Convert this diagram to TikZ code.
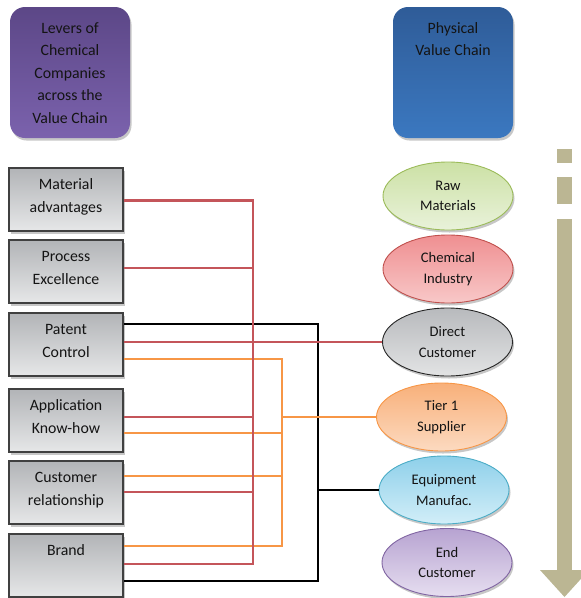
\documentclass[tikz,border=0pt]{standalone}
\usepackage{fontspec}
\setmainfont{Carlito}
\usetikzlibrary{shadows,calc,shapes.geometric}
\definecolor{txt}{HTML}{141414}
\definecolor{gbtop}{HTML}{B2B4B7}
\definecolor{gbbot}{HTML}{E6E7E8}
\definecolor{purtop}{HTML}{5C4787}
\definecolor{purbot}{HTML}{7B62AD}
\definecolor{blutop}{HTML}{2F5C98}
\definecolor{blubot}{HTML}{3B78C0}
\definecolor{lred}{HTML}{C4555A}
\definecolor{lorange}{HTML}{F79646}
\definecolor{tan}{HTML}{BBB693}
\definecolor{rawtop}{HTML}{CCE1A5}\definecolor{rawbot}{HTML}{E9F2DA}\definecolor{rawbd}{HTML}{9BBB59}
\definecolor{chetop}{HTML}{EF8F91}\definecolor{chebot}{HTML}{F8C8C8}\definecolor{chebd}{HTML}{C0504D}
\definecolor{dctop}{HTML}{B8BABD}\definecolor{dcbot}{HTML}{E2E3E4}
\definecolor{t1top}{HTML}{F8B07A}\definecolor{t1bot}{HTML}{FCDAC0}
\definecolor{eqtop}{HTML}{8ED0EA}\definecolor{eqbot}{HTML}{D2EEF8}\definecolor{eqbd}{HTML}{4BACC6}
\definecolor{endtop}{HTML}{B7A3D1}\definecolor{endbot}{HTML}{E6DEF0}\definecolor{endbd}{HTML}{8064A2}
\begin{document}
\begin{tikzpicture}[x=1pt,y=-1pt,
  shad/.style={drop shadow={shadow xshift=1.5pt,shadow yshift=-2.5pt,opacity=0.22,fill=black}},
  lever/.style={draw=black!75,line width=1.1pt,minimum width=114pt,minimum height=63pt,
    top color=gbtop,bottom color=gbbot,inner sep=0pt,shad},
  ltext/.style={anchor=north,align=center,inner sep=0pt,text=txt,
    font=\fontsize{15.8}{22.5}\selectfont},
  head/.style={rounded corners=15pt,minimum width=120pt,minimum height=131pt,inner sep=0pt,shad},
  oval/.style={ellipse,line width=0.9pt,minimum width=130pt,minimum height=68pt,inner sep=1pt,
    align=center,text=txt,font=\fontsize{14.6}{20.5}\selectfont,shad},
  redl/.style={draw=lred,line width=2.1pt},
  orl/.style={draw=lorange,line width=2.1pt},
  blk/.style={draw=black,line width=2.6pt}]
\useasboundingbox (0,0) rectangle (581,598);
\clip (0,0) rectangle (581,598);

% header boxes
\node[head,top color=purtop,bottom color=purbot] (levH) at (70,72.5) {};
\node[ltext] (levT) at ($(levH.north)+(0,10.5)$) {\strut Levers of\\Chemical\\Companies\\across the\\Value Chain};
\node[head,top color=blutop,bottom color=blubot] (phyH) at (453,72.5) {};
\node[ltext] (phyT) at ($(phyH.north)+(0,10.5)$) {\strut Physical\\Value Chain};

% lever boxes
\node[lever] (mat) at (66,199.5) {};
\node[ltext] (matT) at ($(mat.north)+(0,6.5)$) {\strut Material\\advantages};
\node[lever] (pe) at (66,271.5) {};
\node[ltext] (peT) at ($(pe.north)+(0,6.5)$) {\strut Process\\Excellence};
\node[lever] (pc) at (66,344.5) {};
\node[ltext] (pcT) at ($(pc.north)+(0,6.5)$) {\strut Patent\\Control};
\node[lever] (ak) at (66,420.5) {};
\node[ltext] (akT) at ($(ak.north)+(0,6.5)$) {\strut Application\\Know-how};
\node[lever] (cr) at (66,492.5) {};
\node[ltext] (crT) at ($(cr.north)+(0,6.5)$) {\strut Customer\\relationship};
\node[lever] (br) at (66,565.5) {};
\node[ltext] (brT) at ($(br.north)+(0,6.5)$) {\strut Brand};

% value chain ellipses
\node[oval,draw=rawbd,top color=rawtop,bottom color=rawbot] (raw) at (448,196) {Raw\\Materials};
\node[oval,draw=chebd,top color=chetop,bottom color=chebot] (che) at (448,269) {Chemical\\Industry};
\node[oval,draw=black!85,top color=dctop,bottom color=dcbot] (dc) at (447.5,342) {Direct\\Customer};
\node[oval,draw=lorange,top color=t1top,bottom color=t1bot] (t1) at (441.5,417) {Tier 1\\Supplier};
\node[oval,draw=eqbd,top color=eqtop,bottom color=eqbot] (eq) at (444,490) {Equipment\\Manufac.};
\node[oval,draw=endbd,top color=endtop,bottom color=endbot] (end) at (447,562.5) {End\\Customer};

% bus positions
\coordinate (rb) at (253,0);
\coordinate (ob) at (282,0);
\coordinate (kb) at (318,0);

% connector end points on the lever boxes
\coordinate (rM) at ($(mat.east)+(0,1)$);
\coordinate (rP) at ($(pe.east)+(0,-3.5)$);
\coordinate (rK) at ($(pc.east)+(0,-2.5)$);
\coordinate (rA) at ($(ak.east)+(0,-3.5)$);
\coordinate (rC) at ($(cr.east)+(0,-0.5)$);
\coordinate (rB) at ($(br.east)+(0,-1.5)$);
\coordinate (oP) at ($(pc.east)+(0,14.5)$);
\coordinate (oA) at ($(ak.east)+(0,12.5)$);
\coordinate (oC) at ($(cr.east)+(0,-16.5)$);
\coordinate (oB) at ($(br.east)+(0,-19.5)$);
\coordinate (kP) at ($(pc.east)+(0,-20.5)$);
\coordinate (kB) at ($(br.east)+(0,15.5)$);

% black
\draw[blk] (kP) -- (kb |- kP) -- (kb |- kB) -- (kB);
\draw[blk] (kb |- eq.west) -- (eq.west);
% orange
\draw[orl] (oP) -- (ob |- oP) -- (ob |- oB) -- (oB);
\draw[orl] (oA) -- (ob |- oA);
\draw[orl] (oC) -- (ob |- oC);
\draw[orl] (ob |- t1.west) -- (t1.west);
% red
\draw[redl] (rM) -- (rb |- rM) -- (rb |- rB) -- (rB);
\draw[redl] (rP) -- (rb |- rP);
\draw[redl] (rA) -- (rb |- rA);
\draw[redl] (rC) -- (rb |- rC);
\draw[redl] (rK) -- (dc.west);

% flow arrow
\fill[tan] (557,149) rectangle (572,163);
\fill[tan] (557,177) rectangle (572,204);
\fill[tan] (557,219) rectangle (572,571);
\fill[tan] (540,570) -- (589,570) -- (564.5,597) -- cycle;
\end{tikzpicture}
\end{document}
